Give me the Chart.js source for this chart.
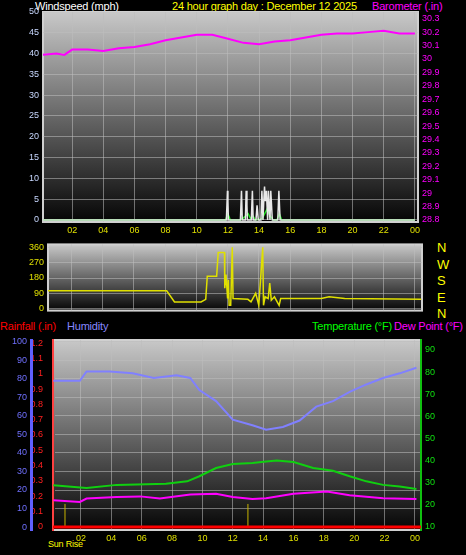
<!DOCTYPE html>
<html><head><meta charset="utf-8">
<script src="https://cdn.jsdelivr.net/npm/chart.js@4"></script>
<style>
body{margin:0;background:#000;width:466px;height:555px;overflow:hidden;position:relative;font-family:'Liberation Sans',Arial,sans-serif}
canvas{position:absolute;left:0}
.t{position:absolute;font-size:11px;letter-spacing:-0.2px;white-space:nowrap;line-height:12px}
</style></head><body>
<div class="t" style="left:35px;top:0;color:#fff">Windspeed (mph)</div>
<div class="t" style="left:172px;top:0;color:#ff0">24 hour graph day : December 12 2025</div>
<div class="t" style="left:372px;top:0;color:#f0f">Barometer (.in)</div>
<div class="t" style="left:437px;top:240px;color:#ff0;line-height:16.5px;font-size:13px">N<br>W<br>S<br>E<br>N</div>
<div class="t" style="left:0;top:320px;color:#f00">Rainfall (.in)</div>
<div class="t" style="left:67px;top:320px;color:#88f">Humidity</div>
<div class="t" style="left:312px;top:320px;color:#0f0">Temperature (°F)</div>
<div class="t" style="left:394px;top:320px;color:#f0f">Dew Point (°F)</div>
<div class="t" style="left:48px;top:538px;color:#ff0;font-size:9px">Sun Rise</div>
<canvas id="c1" width="466" height="235" style="top:0"></canvas>
<canvas id="c2" width="466" height="85" style="top:235px"></canvas>
<canvas id="c3" width="466" height="235" style="top:320px"></canvas>
<script>
// top panel
const baroHours = [0,1,1.5,2,3,4,5,6,7,8,9,10,11,12,13,14,15,16,17,18,19,20,21,22,23,24];
const baroVals = [30.03,30.04,30.03,30.07,30.07,30.06,30.08,30.09,30.11,30.14,30.16,30.18,30.18,30.15,30.12,30.11,30.13,30.14,30.16,30.18,30.19,30.19,30.2,30.21,30.19,30.19];
const gustHours = [0,11.9,11.97,12.0,12.03,12.1,12.8,12.87,12.92,13.12,13.17,13.22,13.25,13.3,13.5,13.57,13.62,13.8,13.87,13.95,14.12,14.18,14.25,14.3,14.35,14.4,14.47,14.55,14.6,14.65,14.7,14.75,14.85,14.9,14.95,15.2,15.27,15.35,24];
const gustVals = [0,0,7,4.5,0,0,0,7,0,0,7,3.5,0,0,0,7,0,0,3.5,0,0,7,0,4.5,8,4.5,7,0,7,3,0,7,0,0,0,0,7,0,0];
const avgHours = [0,11.85,12.0,12.15,12.8,13.0,13.3,13.45,13.6,13.75,14.2,14.5,14.7,14.9,15.15,15.3,15.45,24];
const avgVals = [0,0,1.5,0,0,0.5,1.5,0.3,1,0,0.3,2.5,1,0,0,1.5,0,0];
// middle panel
const dirHours = [0.5,8.1,8.6,10.3,10.6,10.7,11.3,11.4,11.8,11.82,11.9,12.0,12.05,12.1,12.2,12.3,12.35,13.3,13.5,13.8,14.0,14.25,14.3,14.4,14.6,14.7,14.8,15.0,15.3,15.4,18,18.5,19.5,24.4];
const dirVals = [105,105,40,40,55,190,190,330,330,120,200,60,170,20,20,360,60,55,40,90,20,360,20,70,60,150,50,70,20,60,60,70,60,55];
// bottom panel
const humHours = [0.18,1.93,2.37,3.9,5.4,6.8,8.3,9.2,9.8,10.9,12,13.3,14.2,15.3,16.4,17.5,18.6,19.7,20.8,21.9,23,24.1];
const humVals = [79,79,84,84,83,80.5,82,80.5,74,68,58,55,52.6,54,57.5,65,68,73,77,80.5,83,86];
const tempHours = [0.18,2.37,4.35,7.6,9,9.8,10.9,12,13.3,14.2,14.9,16,17.3,18.6,19.7,20.8,21.9,23,24.1];
const tempVals = [28.8,27.6,29,29.5,30.6,32.9,36.6,38.4,38.9,39.6,40,39.3,36.6,35.4,32.9,30.6,29,28.3,27.1];
const dewHours = [0.18,1.93,2.37,4.35,5.9,7.2,9.2,10.9,12,13.3,14.2,16,18.2,19.7,21.9,24.1];
const dewVals = [22,21.3,22.8,23.5,23.8,22.8,24.6,25,23.5,22.6,23,25,26,24.3,23,22.6];
const rainHours = [0.16,24.4];
const rainVals = [0,0];
const sunHours = [0.95,0.95,null,13,13];
const sunVals = [0,0.15,null,0,0.15];
const hourTicks = [2,4,6,8,10,12,14,16,18,20,22,24];

const pts = (xs, ys) => xs.map((x, i) => ({x: x, y: ys[i]}));
const font = {family: "'Liberation Sans', Arial, sans-serif", size: 9};
const grid = {color: 'rgba(190,190,190,0.55)', borderDash: [2, 2], drawTicks: false};

const bgPlugin = {
  id: 'bg',
  beforeDraw(chart) {
    const a = chart.chartArea, c = chart.ctx;
    const g = c.createLinearGradient(0, a.top, 0, a.bottom);
    g.addColorStop(0, '#c8c8c8');
    g.addColorStop(1, '#050505');
    c.fillStyle = g;
    c.fillRect(a.left, a.top, a.right - a.left, a.bottom - a.top);
    c.strokeStyle = '#d0d0d0';
    c.lineWidth = 2;
    c.strokeRect(a.left, a.top, a.right - a.left, a.bottom - a.top);
  }
};

function xAxis(min, max, h, show) {
  return {
    type: 'linear', min: min, max: max,
    afterBuildTicks: s => { s.ticks = hourTicks.map(v => ({value: v})); },
    afterFit: s => { s.height = h; },
    grid: grid, border: {display: false},
    ticks: {display: show, color: '#e0e000', font: font, padding: 3,
      callback: v => String(v % 24).padStart(2, '0')}
  };
}
function yAxis(pos, min, max, step, color, w, extra) {
  return Object.assign({
    position: pos, min: min, max: max,
    afterFit: s => { s.width = w; },
    grid: Object.assign({}, grid, {display: pos === 'left'}),
    border: {display: false},
    ticks: {stepSize: step, color: color, font: font, includeBounds: false, padding: 4}
  }, extra || {});
}
const common = {
  responsive: false, animation: false,
  plugins: {legend: {display: false}, tooltip: {enabled: false}},
  elements: {point: {radius: 0}, line: {tension: 0}}
};
const oneDec = v => Math.round(v * 10) / 10;

new Chart(document.getElementById('c1'), {
  type: 'line',
  data: {datasets: [
    {data: pts(baroHours, baroVals), yAxisID: 'yb', borderColor: '#ff00ff', borderWidth: 2},
    {data: pts(gustHours, gustVals), yAxisID: 'y', borderColor: '#e8e8e8', borderWidth: 1.5},
    {data: pts(avgHours, avgVals), yAxisID: 'y', borderColor: '#20e020', borderWidth: 1.5}
  ]},
  options: Object.assign({}, common, {
    layout: {padding: {top: 12}},
    scales: {
      x: xAxis(0.13, 24.2, 13, true),
      y: yAxis('left', -0.5, 50, 5, '#c8d8ff', 43),
      yb: yAxis('right', 28.785, 30.35, 0.1, '#ff00ff', 48, {ticks: {stepSize: 0.1, color: '#ff00ff', font: font, includeBounds: false, padding: 4, callback: oneDec}})
    }
  }),
  plugins: [bgPlugin]
});

new Chart(document.getElementById('c2'), {
  type: 'line',
  data: {datasets: [
    {data: pts(dirHours, dirVals), borderColor: '#e0e000', borderWidth: 1.5}
  ]},
  options: Object.assign({}, common, {
    layout: {padding: {top: 9, right: 44}},
    scales: {
      x: xAxis(0.5, 24.45, 8, false),
      y: yAxis('left', -11, 377, 90, '#e0e000', 48)
    }
  }),
  plugins: [bgPlugin]
});

new Chart(document.getElementById('c3'), {
  type: 'line',
  data: {datasets: [
    {data: pts(humHours, humVals), yAxisID: 'yh', borderColor: '#8080ff', borderWidth: 2},
    {data: pts(tempHours, tempVals), yAxisID: 'yt', borderColor: '#10d010', borderWidth: 2},
    {data: pts(dewHours, dewVals), yAxisID: 'yt', borderColor: '#ff00ff', borderWidth: 2},
    {data: pts(rainHours, rainVals), yAxisID: 'yr', borderColor: '#ff0000', borderWidth: 3},
    {data: pts(sunHours, sunVals), yAxisID: 'yr', borderColor: '#c8b400', borderWidth: 1, spanGaps: false}
  ]},
  options: Object.assign({}, common, {
    layout: {padding: {top: 20}},
    scales: {
      x: xAxis(0.16, 24.4, 25, true),
      yr: yAxis('left', -0.02, 1.22, 0.1, '#ff2020', 22, {grid: {display: false}, border: {display: true, color: '#ff4040', width: 2, dash: [2, 2]},
        ticks: {stepSize: 0.1, color: '#ff2020', font: font, includeBounds: false, padding: 2, callback: oneDec}}),
      yh: yAxis('left', -1.6, 101, 10, '#7070ff', 31, {grid: grid, border: {display: true, color: '#6060ff', width: 3}}),
      yt: yAxis('right', 8.6, 94.5, 5, '#10e010', 45, {border: {display: true, color: '#10c010', width: 2}})
    }
  }),
  plugins: [bgPlugin]
});
</script>
</body></html>
